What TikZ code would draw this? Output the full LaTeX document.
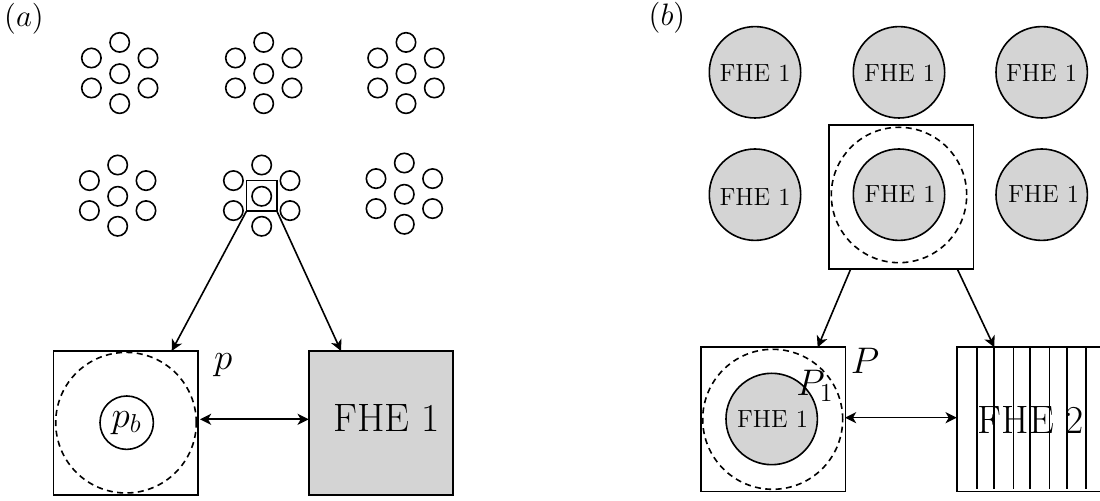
\documentclass[tikz,border=0pt]{standalone}
\usepackage{fix-cm}
\usetikzlibrary{arrows.meta}
\definecolor{fhegray}{HTML}{D4D4D4}
\newcommand{\fsA}{\fontsize{15.5}{18}\selectfont}
\newcommand{\fsB}{\fontsize{12.4}{15}\selectfont}
\newcommand{\fsC}{\fontsize{18.5}{22}\selectfont}
\newcommand{\fsD}{\fontsize{19.8}{24}\selectfont}
\tikzset{
  x=0.5pt,y=-0.5pt,
  every node/.style={inner sep=0pt,outer sep=0pt},
  ln/.style={line width=0.8pt},
  dot/.style={circle,draw,ln,minimum size=19.4*0.5pt},
  selbox/.style={rectangle,draw,ln,minimum size=30.6*0.5pt},
  bigbox/.style={rectangle,draw,ln,minimum size=144.4*0.5pt},
  dashring/.style={circle,draw,ln,dash pattern=on 3pt off 2.2pt},
  fhedisc/.style={circle,draw,ln,fill=fhegray,minimum size=91.4*0.5pt},
  conn/.style={ln,-{Stealth[length=5.6pt,width=5.6pt,inset=1.6pt]}},
  biconn/.style={ln,{Stealth[length=5.6pt,width=5.6pt,inset=1.6pt]}-{Stealth[length=5.6pt,width=5.6pt,inset=1.6pt]}},
  bars/.style={ln},
}
\begin{document}
\begin{tikzpicture}
\useasboundingbox (0,0) rectangle (1100,501);
% panel (a)
\node[font=\fsA] (la) at (24,19) {$(a)$};
\foreach \n/\cx/\cy in {1/119.7/73.7,2/263.7/73.7,3/406/73.7,4/117.7/196.3,5/261.7/196.3,6/404.3/194.3}{
  \node[dot] (c\n) at (\cx,\cy) {};
  \node[dot] (c\n t) at (\cx,\cy-31.3) {};
  \node[dot] (c\n b) at (\cx,\cy+30) {};
  \node[dot] (c\n tl) at (\cx-28.3,\cy-15.7) {};
  \node[dot] (c\n tr) at (\cx+28.3,\cy-15.7) {};
  \node[dot] (c\n bl) at (\cx-28.3,\cy+14.3) {};
  \node[dot] (c\n br) at (\cx+28.3,\cy+14.3) {};
}
\node[selbox] (sa) at (261.7,196) {};
\node[bigbox] (pbox) at (125.5,423) {};
\node[dashring,minimum size=70.3pt] (pring) at (126,422.7) {};
\node[circle,draw,ln,minimum size=26.7pt,font=\fsC] (pb) at (126.7,422.7) {$p_b$};
\node[font=\fsC] (p) at (223.3,365) {$p$};
\node[bigbox,fill=fhegray] (fa) at (381,423) {};
\node[font=\fsD] (fat) at (386.7,418) {FHE 1};
\coordinate (pboxin) at (171.7,351);
\coordinate (faIn) at (341,351);
\coordinate (pringE) at (200,419.3);
\coordinate (faW) at (308.7,419.3);
\draw[conn] (sa.south west) -- (pboxin);
\draw[conn] (sa.south east) -- (faIn);
\draw[biconn] (pringE) -- (faW);
% panel (b)
\node[font=\fsA] (lb) at (667,18) {$(b)$};
\node[fhedisc] (d1) at (755,72.3) {};
\node[fhedisc] (d2) at (899,72.3) {};
\node[fhedisc] (d3) at (1041.7,72.3) {};
\node[fhedisc] (d4) at (755,194.7) {};
\node[fhedisc] (d5) at (899,194.7) {};
\node[fhedisc] (d6) at (1041.7,194.7) {};
\node[font=\fsB] (t1) at (755,73.5) {FHE 1};
\node[font=\fsB] (t2) at (899.5,73.5) {FHE 1};
\node[font=\fsB] (t3) at (1041.5,73.5) {FHE 1};
\node[font=\fsB] (t4) at (755,197) {FHE 1};
\node[font=\fsB] (t5) at (900,194.5) {FHE 1};
\node[font=\fsB] (t6) at (1043.5,194.5) {FHE 1};
\node[bigbox] (sb) at (901.2,197) {};
\node[dashring,minimum size=67.7pt] (sbring) at (899,195) {};
\node[bigbox] (Pbox) at (773.3,419.5) {};
\node[dashring,minimum size=70pt] (Pring) at (772.7,419.3) {};
\node[fhedisc] (Pd) at (771.7,419) {};
\node[font=\fsB] (Pt) at (772.5,419.5) {FHE 1};
\node[font=\fsC] (P) at (865,361) {$P$};
\node[font=\fsC] (P1) at (815,386) {$P_1$};
\node[rectangle,draw,ln,minimum width=72.3pt,minimum height=72.2pt] (f2) at (1029,419.5) {};
\foreach \i/\x in {1/976.7,2/994,3/1013.3,4/1030,5/1049.3,6/1066.7,7/1086}{
  \coordinate (bt\i) at (\x,347.3);
  \coordinate (bb\i) at (\x,489);
  \draw[bars] (bt\i) -- (bb\i);
}
\node[font=\fsD] (f2t) at (1031,419.5) {FHE 2};
\coordinate (sbL) at (850.7,269);
\coordinate (sbR) at (957.3,269);
\coordinate (PboxIn) at (817.7,347.3);
\coordinate (f2In) at (994.3,347.3);
\coordinate (PringE) at (845,417.7);
\coordinate (f2W) at (956.7,417.7);
\draw[conn] (sbL) -- (PboxIn);
\draw[conn] (sbR) -- (f2In);
\draw[biconn] (PringE) -- (f2W);
\end{tikzpicture}
\end{document}
